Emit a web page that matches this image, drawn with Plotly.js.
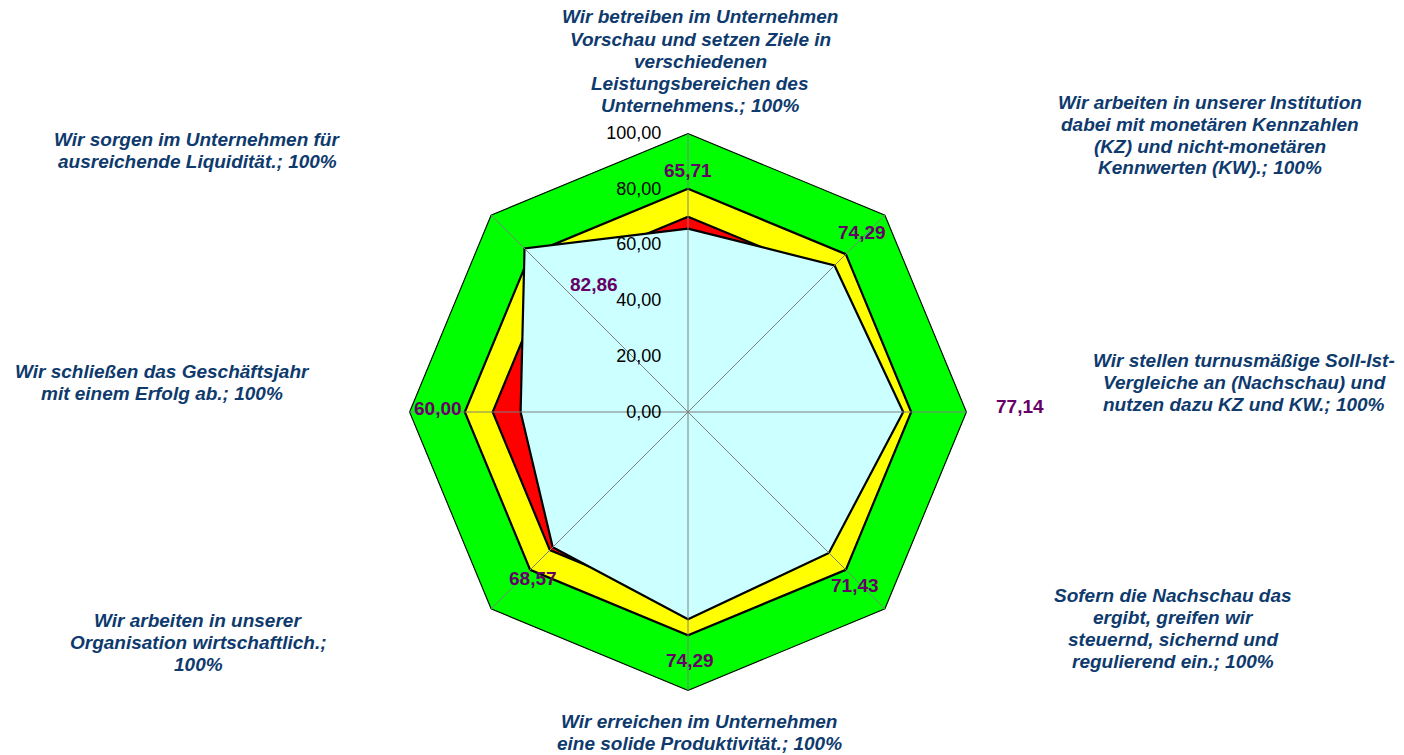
<!DOCTYPE html>
<html>
<head>
<meta charset="utf-8">
<script src="https://cdn.plot.ly/plotly-3.0.1.min.js"></script>
<style>html,body{margin:0;padding:0;background:#fff;}#chart{width:1404px;height:755px;}</style>
</head>
<body>
<div id="chart"></div>
<script>
// ---- data ----
const categories = [
  "Wir betreiben im Unternehmen Vorschau und setzen Ziele in verschiedenen Leistungsbereichen des Unternehmens.",
  "Wir arbeiten in unserer Institution dabei mit monetären Kennzahlen (KZ) und nicht-monetären Kennwerten (KW).",
  "Wir stellen turnusmäßige Soll-Ist-Vergleiche an (Nachschau) und nutzen dazu KZ und KW.",
  "Sofern die Nachschau das ergibt, greifen wir steuernd, sichernd und regulierend ein.",
  "Wir erreichen im Unternehmen eine solide Produktivität.",
  "Wir arbeiten in unserer Organisation wirtschaftlich.",
  "Wir schließen das Geschäftsjahr mit einem Erfolg ab.",
  "Wir sorgen im Unternehmen für ausreichende Liquidität."
];
const categoryLabelLines = [
  ["Wir betreiben im Unternehmen", "Vorschau und setzen Ziele in", "verschiedenen", "Leistungsbereichen des", "Unternehmens.; 100%"],
  ["Wir arbeiten in unserer Institution", "dabei mit monetären Kennzahlen", "(KZ) und nicht-monetären", "Kennwerten (KW).; 100%"],
  ["Wir stellen turnusmäßige Soll-Ist-", "Vergleiche an (Nachschau) und", "nutzen dazu KZ und KW.; 100%"],
  ["Sofern die Nachschau das", "ergibt, greifen wir", "steuernd, sichernd und", "regulierend ein.; 100%"],
  ["Wir erreichen im Unternehmen", "eine solide Produktivität.; 100%"],
  ["Wir arbeiten in unserer", "Organisation wirtschaftlich.;", "100%"],
  ["Wir schließen das Geschäftsjahr", "mit einem Erfolg ab.; 100%"],
  ["Wir sorgen im Unternehmen für", "ausreichende Liquidität.; 100%"]
];
const greenValues  = [100, 100, 100, 100, 100, 100, 100, 100];
const yellowValues = [80, 80, 80, 80, 80, 80, 80, 80];
const redValues    = [70, 70, 70, 70, 70, 70, 70, 70];
const actualValues = [65.71, 74.29, 77.14, 71.43, 74.29, 68.57, 60.00, 82.86];
const radialTicks  = [0, 20, 40, 60, 80, 100];

// ---- layout helpers (positions, not data) ----
const W = 1404, H = 755;
const cx = 688, cy = 412, R = 279;
const catPos = [[700, 61], [1210, 135], [1244, 382], [1173, 628], [699, 732], [198, 642], [162, 382], [197, 150]];
const valPos = [[688, 170], [862, 232], [1020, 406], [855, 585], [690, 660], [533, 578], [438, 408], [594, 284]];
const linePitch = 22;

function closed(a) { return a.concat([a[0]]); }
const thetaClosed = closed(categories);

function polyTrace(vals, fill) {
  return {
    type: 'scatterpolar', mode: 'lines', r: closed(vals), theta: thetaClosed,
    fill: 'toself', fillcolor: fill,
    line: {color: '#000000', width: 2.2},
    hoverinfo: 'skip', showlegend: false
  };
}

const traces = [
  polyTrace(greenValues, '#00ff00'),
  polyTrace(yellowValues, '#ffff00'),
  polyTrace(redValues, '#ff0000'),
  polyTrace(actualValues, '#ccffff')
];
// spokes (category grid lines) drawn above the fills, as in the original
categories.forEach((c, i) => {
  traces.push({
    type: 'scatterpolar', mode: 'lines', r: [0, greenValues[i]], theta: [c, c],
    line: {color: '#7f7f7f', width: 1}, hoverinfo: 'skip', showlegend: false
  });
});
traces.push({type: 'scatterpolar', mode: 'markers', r: [0], theta: [categories[0]],
  marker: {color: '#000', size: 8}, hoverinfo: 'skip', showlegend: false});

const fmt = v => v.toFixed(2).replace('.', ',');
const annotations = [];
categoryLabelLines.forEach((lines, i) => {
  const n = lines.length;
  lines.forEach((ln, j) => {
    const yPx = catPos[i][1] + (j - (n - 1) / 2) * linePitch;
    annotations.push({
      xref: 'paper', yref: 'paper', x: catPos[i][0] / W, y: 1 - yPx / H,
      xanchor: 'center', yanchor: 'middle', align: 'center', showarrow: false,
      text: '<b><i>' + ln + '</i></b>',
      font: {family: 'Liberation Sans, Arial, sans-serif', size: 19, color: '#0e3a6d'}
    });
  });
});
actualValues.forEach((v, i) => {
  annotations.push({
    xref: 'paper', yref: 'paper', x: valPos[i][0] / W, y: 1 - valPos[i][1] / H,
    xanchor: 'center', yanchor: 'middle', showarrow: false,
    text: '<b>' + fmt(v) + '</b>',
    font: {family: 'Liberation Sans, Arial, sans-serif', size: 19, color: '#660066'}
  });
});

const layout = {
  width: W, height: H,
  margin: {l: 0, r: 0, t: 0, b: 0},
  paper_bgcolor: '#ffffff',
  separators: ',.',
  showlegend: false,
  font: {family: 'Liberation Sans, Arial, sans-serif', size: 18, color: '#000'},
  polar: {
    domain: {x: [(cx - R) / W, (cx + R) / W], y: [(H - cy - R) / H, (H - cy + R) / H]},
    bgcolor: 'rgba(0,0,0,0)',
    gridshape: 'linear',
    angularaxis: {
      rotation: 90, direction: 'clockwise',
      showticklabels: false, ticks: '',
      showgrid: false, showline: false
    },
    radialaxis: {
      range: [0, 100], angle: 90, side: 'counterclockwise',
      tickmode: 'array', tickvals: radialTicks, tickformat: '.2f',
      tickangle: 90,
      showgrid: false, showline: false,
      ticks: 'outside', ticklen: 20, tickcolor: 'rgba(0,0,0,0)',
      tickfont: {size: 18, color: '#000'},
      layer: 'above traces'
    }
  },
  annotations: annotations
};

Plotly.newPlot('chart', traces, layout, {staticPlot: true, displayModeBar: false});
</script>
</body>
</html>
